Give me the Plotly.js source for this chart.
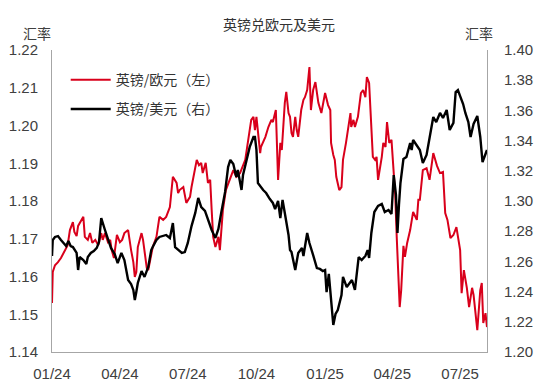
<!DOCTYPE html>
<html>
<head>
<meta charset="utf-8">
<script src="https://cdn.plot.ly/plotly-3.0.1.min.js"></script>
<style>
html,body{margin:0;padding:0;background:#fff;}
#chart{width:540px;height:387px;}
</style>
</head>
<body>
<div id="chart"></div>
<script>
// 英镑/欧元 (left axis)
var eurDates = ["2024-01-01","2024-01-02","2024-01-05","2024-01-09","2024-01-13","2024-01-15","2024-01-19","2024-01-22","2024-01-25","2024-01-27","2024-01-29","2024-01-31",
"2024-02-03","2024-02-05","2024-02-07","2024-02-12","2024-02-14","2024-02-18","2024-02-21","2024-02-24","2024-02-28",
"2024-03-03","2024-03-07","2024-03-09","2024-03-12","2024-03-16","2024-03-19","2024-03-21","2024-03-24","2024-03-28",
"2024-04-01","2024-04-04","2024-04-07","2024-04-12","2024-04-16","2024-04-19","2024-04-21","2024-04-23","2024-04-25","2024-04-30",
"2024-05-02","2024-05-04","2024-05-07","2024-05-09","2024-05-11","2024-05-15","2024-05-20","2024-05-24","2024-05-29",
"2024-06-02","2024-06-07","2024-06-09","2024-06-11","2024-06-16","2024-06-18","2024-06-20","2024-06-25","2024-06-29",
"2024-07-04","2024-07-06","2024-07-08","2024-07-11","2024-07-13","2024-07-16","2024-07-19","2024-07-21","2024-07-25","2024-07-28","2024-07-31",
"2024-08-02","2024-08-04","2024-08-07","2024-08-11","2024-08-13","2024-08-15","2024-08-17","2024-08-21","2024-08-27","2024-08-31",
"2024-09-04","2024-09-09","2024-09-16","2024-09-20","2024-09-24","2024-09-27","2024-09-29",
"2024-10-01","2024-10-03","2024-10-06","2024-10-07","2024-10-13","2024-10-17","2024-10-21","2024-10-23","2024-10-27","2024-10-30",
"2024-11-02","2024-11-04","2024-11-08","2024-11-10","2024-11-13","2024-11-15","2024-11-17","2024-11-19","2024-11-22","2024-11-24","2024-11-26","2024-11-30",
"2024-12-03","2024-12-05","2024-12-08","2024-12-11","2024-12-13","2024-12-16","2024-12-19","2024-12-23","2024-12-27",
"2025-01-01","2025-01-05","2025-01-08","2025-01-09","2025-01-12","2025-01-14","2025-01-16","2025-01-20","2025-01-23","2025-01-25","2025-01-29",
"2025-02-04","2025-02-05","2025-02-08","2025-02-10","2025-02-14","2025-02-18","2025-02-21","2025-02-24","2025-02-26",
"2025-03-01","2025-03-04","2025-03-06","2025-03-09","2025-03-11","2025-03-13","2025-03-16","2025-03-18","2025-03-20","2025-03-23","2025-03-25","2025-03-28","2025-03-31",
"2025-04-02","2025-04-05","2025-04-07","2025-04-11","2025-04-13","2025-04-16","2025-04-18","2025-04-21","2025-04-25","2025-04-29",
"2025-05-04","2025-05-06","2025-05-08","2025-05-12","2025-05-17","2025-05-21","2025-05-26","2025-05-31",
"2025-06-04","2025-06-08","2025-06-11","2025-06-14","2025-06-18","2025-06-22","2025-06-26",
"2025-07-01","2025-07-03","2025-07-06","2025-07-10","2025-07-13","2025-07-17","2025-07-19","2025-07-24","2025-07-28","2025-07-30",
"2025-08-01","2025-08-04","2025-08-06"];
var eurValues = [1.1530,1.1612,1.1630,1.1638,1.1649,1.1657,1.1675,1.1683,1.1723,1.1736,1.1744,1.1718,
1.1707,1.1734,1.1742,1.1758,1.1705,1.1697,1.1715,1.1689,1.1697,
1.1683,1.1715,1.1697,1.1715,1.1691,1.1697,1.1670,1.1649,1.1710,
1.1691,1.1697,1.1715,1.1723,1.1670,1.1638,1.1599,1.1612,1.1678,1.1715,
1.1697,1.1670,1.1623,1.1617,1.1638,1.1678,1.1705,1.1758,1.1750,
1.1758,1.1784,1.1829,1.1864,1.1848,1.1821,1.1829,1.1837,1.1795,
1.1811,1.1837,1.1856,1.1890,1.1909,1.1895,1.1901,1.1874,1.1901,1.1848,1.1856,
1.1776,1.1705,1.1678,1.1705,1.1670,1.1731,1.1776,1.1829,1.1864,1.1882,
1.1864,1.1874,1.1909,1.1962,1.2015,1.2023,1.1988,
1.2023,1.1983,1.1927,1.1943,1.1970,1.1996,1.2015,1.2009,1.2041,1.1856,
1.1954,1.1935,1.2060,1.2089,1.2033,1.2023,1.1980,1.1970,1.2023,1.1988,1.1970,1.2041,
1.2068,1.2075,1.2094,1.2155,1.2041,1.2094,1.2115,1.2060,1.2033,
1.2086,1.2054,1.2041,1.1954,1.1922,1.1909,1.1864,1.1829,1.1837,1.1909,1.1954,
1.2033,1.1996,1.2015,1.1996,1.2023,1.2086,1.2094,1.2075,1.2128,
1.2113,1.1996,1.1917,1.1909,1.1917,1.1856,1.1890,1.1917,1.1954,1.1943,1.2009,1.1954,1.1962,
1.1909,1.1816,1.1705,1.1519,1.1564,1.1681,1.1652,1.1689,1.1723,1.1771,
1.1750,1.1803,1.1803,1.1882,1.1887,1.1856,1.1927,1.1893,
1.1874,1.1877,1.1768,1.1750,1.1702,1.1710,1.1731,
1.1670,1.1556,1.1617,1.1570,1.1519,1.1570,1.1551,1.1458,1.1564,1.1583,
1.1477,1.1503,1.1466];

// 英镑/美元 (right axis)
var usdDates = ["2024-01-01","2024-01-02","2024-01-05","2024-01-09","2024-01-13","2024-01-16","2024-01-20","2024-01-23","2024-01-26","2024-01-29",
"2024-02-01","2024-02-03","2024-02-05","2024-02-07","2024-02-12","2024-02-16","2024-02-18","2024-02-22","2024-02-26",
"2024-03-01","2024-03-04","2024-03-07","2024-03-12","2024-03-16","2024-03-20","2024-03-25","2024-03-29",
"2024-04-03","2024-04-07","2024-04-12","2024-04-16","2024-04-19","2024-04-21","2024-04-23","2024-04-25","2024-04-30",
"2024-05-04","2024-05-09","2024-05-13","2024-05-15","2024-05-20","2024-05-24","2024-05-29",
"2024-06-02","2024-06-07","2024-06-11","2024-06-14","2024-06-18","2024-06-23","2024-06-27",
"2024-07-01","2024-07-06","2024-07-11","2024-07-15","2024-07-19","2024-07-24","2024-07-28",
"2024-08-02","2024-08-07","2024-08-11","2024-08-15","2024-08-20","2024-08-24","2024-08-27","2024-08-31",
"2024-09-04","2024-09-06","2024-09-11","2024-09-13","2024-09-18","2024-09-22","2024-09-27","2024-09-29",
"2024-10-01","2024-10-03","2024-10-10","2024-10-14","2024-10-19","2024-10-23","2024-10-26","2024-10-30",
"2024-11-02","2024-11-05","2024-11-08","2024-11-13","2024-11-15","2024-11-17","2024-11-22","2024-11-26",
"2024-12-01","2024-12-03","2024-12-08","2024-12-11","2024-12-16","2024-12-21","2024-12-25","2024-12-29",
"2025-01-01","2025-01-03","2025-01-06","2025-01-10","2025-01-12","2025-01-15","2025-01-18","2025-01-23","2025-01-25","2025-01-30",
"2025-02-03","2025-02-06","2025-02-10","2025-02-15","2025-02-19","2025-02-24","2025-02-27",
"2025-03-01","2025-03-04","2025-03-08","2025-03-13","2025-03-18","2025-03-22","2025-03-27","2025-03-31",
"2025-04-03","2025-04-06","2025-04-08","2025-04-10","2025-04-12","2025-04-16","2025-04-20","2025-04-25","2025-04-27","2025-04-29",
"2025-05-04","2025-05-08","2025-05-12","2025-05-17","2025-05-21","2025-05-26","2025-05-30",
"2025-06-04","2025-06-08","2025-06-13","2025-06-17","2025-06-22","2025-06-25","2025-06-28",
"2025-07-01","2025-07-05","2025-07-08","2025-07-12","2025-07-15","2025-07-19","2025-07-24","2025-07-28","2025-07-31",
"2025-08-03","2025-08-06"];
var usdValues = [1.2636,1.2742,1.2762,1.2768,1.2742,1.2722,1.2702,1.2735,1.2702,1.2695,
1.2675,1.2656,1.2543,1.2629,1.2609,1.2583,1.2629,1.2656,1.2669,
1.2689,1.2728,1.2887,1.2808,1.2755,1.2689,1.2649,1.2589,
1.2656,1.2609,1.2477,1.2450,1.2411,1.2344,1.2397,1.2457,1.2536,
1.2497,1.2563,1.2675,1.2695,1.2742,1.2762,1.2768,
1.2775,1.2755,1.2854,1.2695,1.2675,1.2656,1.2662,
1.2722,1.2834,1.2921,1.3020,1.2960,1.2934,1.2874,
1.2808,1.2755,1.2815,1.2927,1.3060,1.3225,1.3272,1.3245,
1.3159,1.3205,1.3073,1.3172,1.3272,1.3358,1.3424,1.3424,
1.3338,1.3119,1.3073,1.3053,1.3013,1.2987,1.2947,1.3000,
1.2887,1.3007,1.2921,1.2775,1.2675,1.2662,1.2543,1.2656,
1.2689,1.2636,1.2788,1.2722,1.2642,1.2556,1.2550,1.2536,
1.2543,1.2397,1.2517,1.2311,1.2179,1.2252,1.2278,1.2377,1.2497,1.2430,
1.2457,1.2477,1.2411,1.2629,1.2609,1.2636,1.2675,
1.2623,1.2788,1.2927,1.2967,1.2980,1.2927,1.2940,1.2914,
1.3172,1.3040,1.2788,1.2974,1.3119,1.3278,1.3291,1.3384,1.3338,1.3404,
1.3371,1.3338,1.3252,1.3305,1.3417,1.3556,1.3523,
1.3583,1.3550,1.3603,1.3470,1.3517,1.3722,1.3735,
1.3695,1.3642,1.3583,1.3523,1.3424,1.3510,1.3563,1.3424,1.3258,
1.3305,1.3338];

var chartTitle = "英镑兑欧元及美元";
var seriesNames = ["英镑/欧元（左）", "英镑/美元（右）"];
var axisUnit = "汇率";

var baseFont = "'Liberation Sans', Arial, 'Noto Sans CJK SC', sans-serif";
var cjkFont = "'Noto Sans CJK SC', 'Liberation Sans', sans-serif";

var traces = [
  {x: eurDates, y: eurValues, type: "scatter", mode: "lines", name: seriesNames[0],
   line: {color: "#d9001b", width: 2}, yaxis: "y", legendgroup: "a"},
  {x: usdDates, y: usdValues, type: "scatter", mode: "lines", name: seriesNames[1],
   line: {color: "#000000", width: 2.4}, yaxis: "y2", legendgroup: "b"}
];

var layout = {
  width: 540, height: 387,
  margin: {l: 52, r: 53, t: 50, b: 35},
  paper_bgcolor: "#ffffff", plot_bgcolor: "#ffffff",
  font: {family: baseFont, size: 15, color: "#404040"},
  showlegend: true,
  legend: {x: 0.0315, y: 0.953, xanchor: "left", yanchor: "top", bgcolor: "rgba(0,0,0,0)",
           font: {family: cjkFont, size: 14, color: "#333333"}, tracegroupgap: 8,
           traceorder: "grouped", itemwidth: 40},
  xaxis: {type: "date", range: ["2024-01-01", "2025-08-06"], tickformat: "%m/%y",
          dtick: "M3", tick0: "2024-01-01", showgrid: false, zeroline: false,
          showline: true, linecolor: "#a6a6a6", linewidth: 1, ticks: "",
          ticklabelstandoff: 8, tickfont: {size: 15, color: "#404040"}},
  yaxis: {range: [1.14, 1.22], dtick: 0.01, tickformat: ".2f", showgrid: false, zeroline: false,
          showline: true, linecolor: "#a6a6a6", linewidth: 1, ticks: "",
          ticklabelstandoff: 10, tickfont: {size: 15, color: "#404040"}},
  yaxis2: {range: [1.20, 1.40], dtick: 0.02, tickformat: ".2f", overlaying: "y", side: "right",
           showgrid: false, zeroline: false, showline: true, linecolor: "#a6a6a6", linewidth: 1,
           ticks: "", ticklabelstandoff: 13, tickfont: {size: 15, color: "#404040"}},
  title: {text: chartTitle, x: 279/540, xanchor: "center", y: 1 - 25/387, yanchor: "middle",
          font: {family: cjkFont, size: 14, color: "#333333"}},
  annotations: [
    {text: axisUnit, xref: "paper", yref: "paper", x: (21-52)/435, y: 1 + 17/302, xanchor: "left", yanchor: "middle",
     showarrow: false, font: {family: cjkFont, size: 14, color: "#404040"}},
    {text: axisUnit, xref: "paper", yref: "paper", x: 1 + (479-487)/435, y: 1 + 17/302, xanchor: "center", yanchor: "middle",
     showarrow: false, font: {family: cjkFont, size: 14, color: "#404040"}}
  ]
};

Plotly.newPlot("chart", traces, layout, {staticPlot: true, displayModeBar: false});
</script>
</body>
</html>
